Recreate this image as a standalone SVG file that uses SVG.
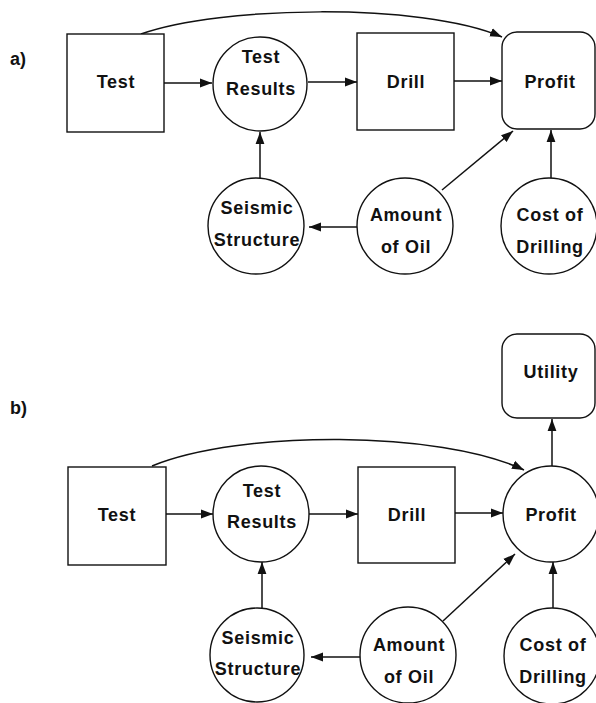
<svg xmlns="http://www.w3.org/2000/svg" width="596" height="703" viewBox="0 0 596 703">
<defs>
<marker id="ah" markerWidth="13" markerHeight="10" refX="12" refY="5" orient="auto" markerUnits="userSpaceOnUse">
<path d="M0,0.6 L12,5 L0,9.4 Z" fill="#111"/>
</marker>
<style>
.n{fill:#fff;stroke:#111;stroke-width:1.4}
.t{font-family:"Liberation Sans",Arial,sans-serif;font-weight:bold;font-size:18px;letter-spacing:0.7px;text-anchor:middle;fill:#111}
.lbl{font-family:"Liberation Sans",Arial,sans-serif;font-weight:bold;font-size:18px;fill:#111}
.c{fill:none;stroke:#111;stroke-width:1.5;marker-end:url(#ah)}
</style>
</defs>
<rect width="596" height="703" fill="#fff"/>
<text class="lbl" x="10" y="65">a)</text>
<text class="lbl" x="10" y="414">b)</text>

<g id="connectors">
<path class="c" d="M141,34 C220,6 420,2 502,37"/>
<path class="c" d="M164,83 L212,83"/>
<path class="c" d="M308,82 L357,82"/>
<path class="c" d="M454,81 L502,81"/>
<path class="c" d="M260,179 L260,132"/>
<path class="c" d="M357,227 L309,227"/>
<path class="c" d="M442,190 L513,131"/>
<path class="c" d="M551,178 L551,130"/>

<path class="c" d="M152,466 C240,430 440,430 524,470"/>
<path class="c" d="M166,514 L213,514"/>
<path class="c" d="M309,514 L358,514"/>
<path class="c" d="M455,513 L503,513"/>
<path class="c" d="M552,466 L552,419"/>
<path class="c" d="M262,609 L262,562"/>
<path class="c" d="M360,657 L311,657"/>
<path class="c" d="M443,621 L515,554"/>
<path class="c" d="M553,608 L553,562"/>
</g>

<g id="a-test"><rect class="n" x="67" y="34" width="97" height="98"/><text class="t" x="116" y="88">Test</text></g>
<g id="a-testresults"><circle class="n" cx="260" cy="84" r="47"/><text class="t" x="261" y="63">Test</text><text class="t" x="261" y="95">Results</text></g>
<g id="a-drill"><rect class="n" x="357" y="33" width="97" height="97"/><text class="t" x="406" y="88">Drill</text></g>
<g id="a-profit"><rect class="n" x="502" y="32" width="93" height="97" rx="15"/><text class="t" x="550" y="88">Profit</text></g>
<g id="a-seismic"><circle class="n" cx="256" cy="226" r="48"/><text class="t" x="257" y="214">Seismic</text><text class="t" x="257" y="246">Structure</text></g>
<g id="a-oil"><circle class="n" cx="405" cy="226" r="48"/><text class="t" x="406" y="221">Amount</text><text class="t" x="406" y="253">of Oil</text></g>
<g id="a-cost"><circle class="n" cx="549" cy="226" r="48"/><text class="t" x="550" y="221">Cost of</text><text class="t" x="550" y="253">Drilling</text></g>

<g id="b-utility"><rect class="n" x="502" y="334" width="93" height="84" rx="15"/><text class="t" x="551" y="378">Utility</text></g>
<g id="b-test"><rect class="n" x="68" y="467" width="98" height="98"/><text class="t" x="117" y="521">Test</text></g>
<g id="b-testresults"><circle class="n" cx="261" cy="514" r="48"/><text class="t" x="262" y="497">Test</text><text class="t" x="262" y="528">Results</text></g>
<g id="b-drill"><rect class="n" x="358" y="467" width="97" height="96"/><text class="t" x="407" y="521">Drill</text></g>
<g id="b-profit"><circle class="n" cx="551" cy="514" r="48"/><text class="t" x="551" y="521">Profit</text></g>
<g id="b-seismic"><circle class="n" cx="257" cy="655" r="47"/><text class="t" x="258" y="644">Seismic</text><text class="t" x="258" y="675">Structure</text></g>
<g id="b-oil"><circle class="n" cx="408" cy="655" r="48"/><text class="t" x="409" y="651">Amount</text><text class="t" x="409" y="683">of Oil</text></g>
<g id="b-cost"><circle class="n" cx="552" cy="656" r="48"/><text class="t" x="553" y="651">Cost of</text><text class="t" x="553" y="683">Drilling</text></g>
</svg>
